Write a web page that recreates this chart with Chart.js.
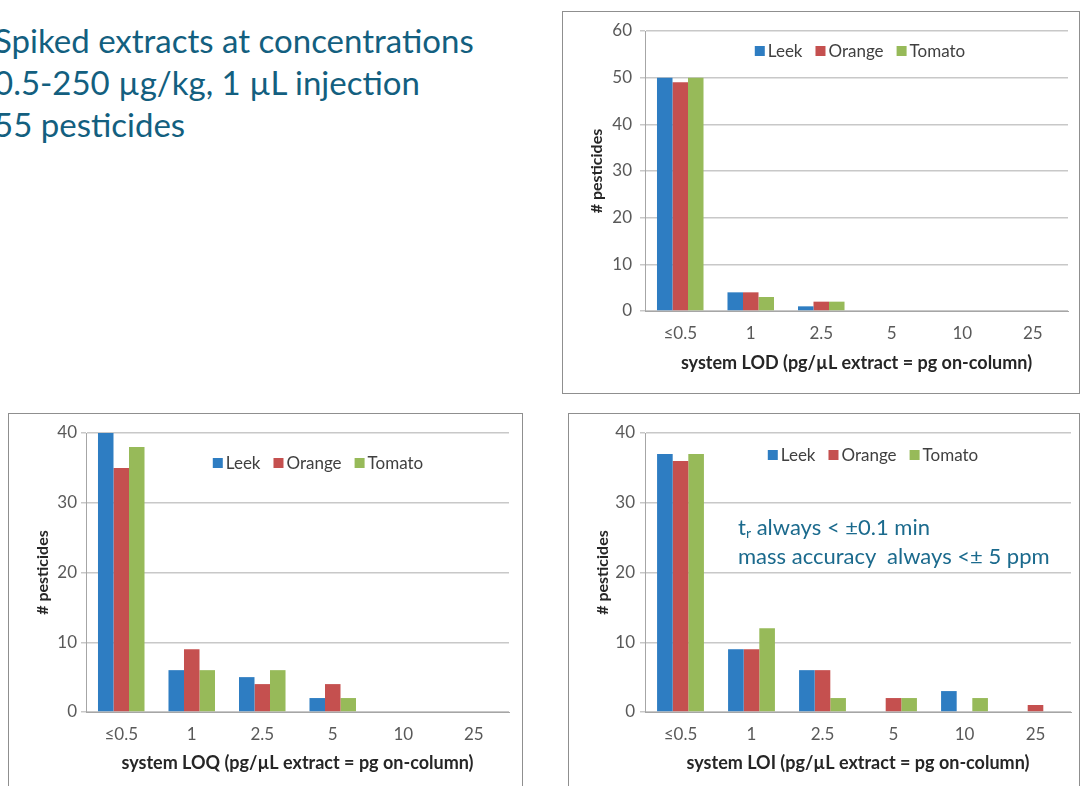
<!DOCTYPE html>
<html>
<head>
<meta charset="utf-8">
<script src="https://cdn.jsdelivr.net/npm/chart.js@4.4.1/dist/chart.umd.min.js"></script>
<style>
    body { margin: 0; width: 1080px; height: 786px; overflow: hidden; background: #fff; position: relative; font-family: Lato, "Open Sans", sans-serif; }
    .box { position: absolute; border: 1px solid #8f8f8f; box-sizing: border-box; background: #fff; }
    canvas { position: absolute; }
    .intro { position: absolute; left: -6px; top: 19px; font-size: 33px; line-height: 42px; color: #135f7f; white-space: nowrap; }
    .note { position: absolute; left: 738px; top: 512px; font-size: 22px; line-height: 29px; color: #1b6a8d; white-space: nowrap; }
    .note sub { font-size: 14px; vertical-align: -3px; line-height: 0; }
</style>
</head>
<body>
<div class="intro">Spiked extracts at concentrations<br>0.5-250 µg/kg, 1 µL injection<br>55 pesticides</div>

<div class="box" style="left:562px;top:11px;width:518px;height:383px;"></div>
<div class="box" style="left:8px;top:413px;width:515px;height:380px;"></div>
<div class="box" style="left:568px;top:413px;width:512px;height:380px;"></div>

<canvas id="lodChart" width="516" height="381" style="left:563px;top:12px;"></canvas>
<canvas id="loqChart" width="513" height="372" style="left:9px;top:414px;"></canvas>
<canvas id="loiChart" width="510" height="372" style="left:569px;top:414px;"></canvas>

<div class="note">t<sub>r</sub> always &lt; ±0.1 min<br>mass accuracy&nbsp; always &lt;± 5 ppm</div>

<script>
const categories = ['≤0.5', '1', '2.5', '5', '10', '25'];
const seriesNames = ['Leek', 'Orange', 'Tomato'];
const seriesColors = ['#2e7dc2', '#c5504f', '#97ba59'];

const lodLeek = [50, 4, 1, 0, 0, 0];
const lodOrange = [49, 4, 2, 0, 0, 0];
const lodTomato = [50, 3, 2, 0, 0, 0];

const loqLeek = [40, 6, 5, 2, 0, 0];
const loqOrange = [35, 9, 4, 4, 0, 0];
const loqTomato = [38, 6, 6, 2, 0, 0];

const loiLeek = [37, 9, 6, 0, 3, 0];
const loiOrange = [36, 9, 6, 2, 0, 1];
const loiTomato = [37, 12, 2, 2, 2, 0];

// legend drawn inside the plot area, like the Excel original
const innerLegend = {
    id: 'innerLegend',
    afterDraw(chart, args, opts) {
        const ctx = chart.ctx;
        ctx.save();
        ctx.font = '17px Lato';
        ctx.textBaseline = 'middle';
        const box = 10, gap = 3, spacing = 13;
        const items = chart.data.datasets.map(ds => ({ label: ds.label, color: ds.backgroundColor, w: box + gap + ctx.measureText(ds.label).width }));
        const total = items.reduce((s, it) => s + it.w, 0) + spacing * (items.length - 1);
        let x = opts.x - total / 2;
        items.forEach(it => {
            ctx.fillStyle = it.color;
            ctx.fillRect(x, opts.y - box / 2, box, box);
            ctx.fillStyle = '#404040';
            ctx.fillText(it.label, x + box + gap, opts.y + 1);
            x += it.w + spacing;
        });
        ctx.restore();
    }
};

function makeChart(id, values, yMax, xTitle, g) {
    const ctx = document.getElementById(id).getContext('2d');
    return new Chart(ctx, {
        type: 'bar',
        data: {
            labels: categories,
            datasets: values.map((v, i) => ({
                label: seriesNames[i],
                data: v,
                backgroundColor: seriesColors[i],
                borderWidth: 0,
                barPercentage: 1,
                categoryPercentage: 0.66
            }))
        },
        options: {
            responsive: false,
            animation: false,
            layout: {
                padding: { left: 24, top: g.top, right: g.right, bottom: 0 }
            },
            scales: {
                x: {
                    afterFit: s => { s.height = g.xHeight; },
                    grid: { display: false, drawTicks: false },
                    border: { display: true, color: '#a6a6a6' },
                    ticks: { color: '#595959', font: { size: 17, family: 'Lato' }, padding: 12 },
                    title: {
                        display: true,
                        text: xTitle,
                        color: '#262626',
                        font: { size: 18, weight: 'bold', family: 'Lato' },
                        padding: { top: 0, bottom: g.xTitleBottom }
                    }
                },
                y: {
                    min: 0,
                    max: yMax,
                    afterFit: s => { s.width = g.yWidth; },
                    grid: { color: '#c8c8c8', lineWidth: 1.5, tickLength: 5 },
                    border: { display: true, color: '#a6a6a6' },
                    ticks: { stepSize: 10, color: '#595959', font: { size: 17, family: 'Lato' }, padding: g.tickPad },
                    title: {
                        display: true,
                        text: '# pesticides',
                        color: '#262626',
                        font: { size: 16, weight: 'bold', family: 'Lato' },
                        padding: 0
                    }
                }
            },
            plugins: {
                legend: { display: false },
                tooltip: { enabled: false },
                innerLegend: { x: g.legendX, y: g.legendY }
            }
        },
        plugins: [innerLegend]
    });
}

makeChart('lodChart', [lodLeek, lodOrange, lodTomato], 60,
    'system LOD (pg/µL extract = pg on-column)',
    { top: 19, right: 11, yWidth: 58, xHeight: 82, xTitleBottom: 19, tickPad: 8, legendX: 297, legendY: 39 });

makeChart('loqChart', [loqLeek, loqOrange, loqTomato], 40,
    'system LOQ (pg/µL extract = pg on-column)',
    { top: 19, right: 13, yWidth: 53, xHeight: 74, xTitleBottom: 12, tickPad: 4, legendX: 309, legendY: 49 });

makeChart('loiChart', [loiLeek, loiOrange, loiTomato], 40,
    'system LOI (pg/µL extract = pg on-column)',
    { top: 19, right: 8, yWidth: 52, xHeight: 74, xTitleBottom: 12, tickPad: 5, legendX: 304, legendY: 41 });
</script>
</body>
</html>
